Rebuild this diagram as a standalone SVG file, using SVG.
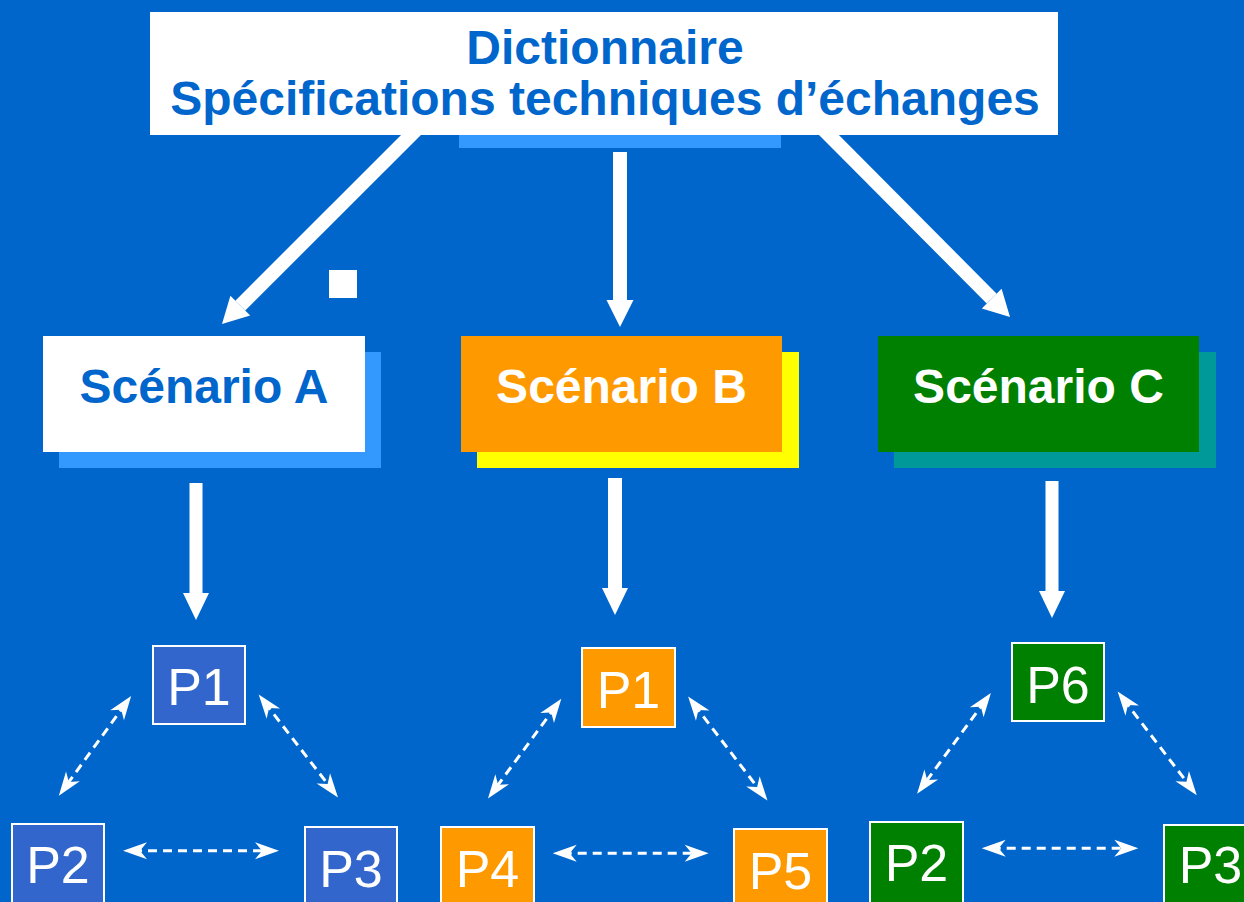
<svg xmlns="http://www.w3.org/2000/svg" width="1244" height="902" viewBox="0 0 1244 902">
<defs>
<style>
.bg{fill:#0066CC}
.title{font-family:"Liberation Sans",Arial,sans-serif;font-weight:bold;font-size:48px;fill:#0066CC;text-anchor:middle}
.scen{font-family:"Liberation Sans",Arial,sans-serif;font-weight:bold;font-size:48px;text-anchor:middle}
.p{font-family:"Liberation Sans",Arial,sans-serif;font-size:52px;fill:#FFFFFF;text-anchor:middle}
.pbox{stroke:#FFFFFF;stroke-width:2}
.pa{fill:#3366CC}
.pb{fill:#FF9900}
.pc{fill:#008000}
.shaft{stroke:#FFFFFF;stroke-width:14;fill:none}
.head{fill:#FFFFFF}
.dash{stroke:#FFFFFF;stroke-width:3;stroke-dasharray:9 6;fill:none;marker-start:url(#dh);marker-end:url(#dh)}
</style>
<marker id="dh" markerUnits="userSpaceOnUse" markerWidth="30" markerHeight="30" viewBox="-15 -15 30 30" refX="0" refY="0" orient="auto-start-reverse" overflow="visible">
<path d="M10,0 L-14,-8.5 L-7,0 L-14,8.5 Z" fill="#FFFFFF"/>
</marker>
</defs>
<rect class="bg" x="0" y="0" width="1244" height="902"/>

<g id="connectors">
<line class="shaft" x1="420" y1="126" x2="240.3" y2="305.6"/>
<polygon class="head" points="222,324 250.2,315.5 230.4,295.7"/>
<rect class="head" x="613" y="152" width="14" height="148"/>
<polygon class="head" points="606.5,300 633.5,300 620,327"/>
<line class="shaft" x1="820" y1="126" x2="991.7" y2="298.6"/>
<polygon class="head" points="1010,317 981.8,308.5 1001.6,288.7"/>

<rect class="head" x="189.5" y="483" width="13" height="110"/>
<polygon class="head" points="183,593 209,593 196,620"/>
<rect class="head" x="608" y="478" width="14" height="110"/>
<polygon class="head" points="602,588 628,588 615,615"/>
<rect class="head" x="1045.5" y="481" width="13" height="110"/>
<polygon class="head" points="1039,591 1065,591 1052,618"/>

<line class="dash" x1="125.3" y1="704" x2="64.7" y2="787.7"/>
<line class="dash" x1="264.8" y1="702.5" x2="331.9" y2="789.5"/>
<line class="dash" x1="133" y1="850.7" x2="269" y2="850.7"/>

<line class="dash" x1="555.4" y1="706.8" x2="493.9" y2="790.5"/>
<line class="dash" x1="694.2" y1="704.5" x2="761.4" y2="792.5"/>
<line class="dash" x1="562.7" y1="853.3" x2="698.7" y2="853.3"/>

<line class="dash" x1="985" y1="701" x2="923" y2="785.7"/>
<line class="dash" x1="1123.7" y1="699.5" x2="1190.7" y2="787.2"/>
<line class="dash" x1="991.7" y1="848.3" x2="1128.3" y2="848.3"/>

<rect x="329" y="270" width="28" height="28" fill="#FFFFFF"/>
</g>

<g id="dictionnaire">
<rect x="459" y="135" width="322" height="13" fill="#3399FF"/>
<rect x="150" y="12" width="908" height="123" fill="#FFFFFF"/>
<text class="title" x="605" y="64">Dictionnaire</text>
<text class="title" x="605" y="115">Spécifications techniques d’échanges</text>
</g>

<g id="scenarioA">
<rect x="59" y="352" width="322" height="116" fill="#3399FF"/>
<rect x="43" y="336" width="322" height="116" fill="#FFFFFF"/>
<text class="scen" x="204" y="403" fill="#0066CC">Scénario A</text>
</g>
<g id="scenarioB">
<rect x="477" y="352" width="322" height="116" fill="#FFFF00"/>
<rect x="461" y="336" width="321" height="116" fill="#FF9900"/>
<text class="scen" x="621.5" y="403" fill="#FFFFFF">Scénario B</text>
</g>
<g id="scenarioC">
<rect x="894" y="352" width="322" height="116" fill="#009999"/>
<rect x="878" y="336" width="321" height="116" fill="#008000"/>
<text class="scen" x="1038.5" y="403" fill="#FFFFFF">Scénario C</text>
</g>

<g id="A-P1"><rect class="pbox pa" x="153" y="646" width="92" height="78"/><text class="p" x="199" y="705">P1</text></g>
<g id="A-P2"><rect class="pbox pa" x="12" y="824" width="92" height="80"/><text class="p" x="58" y="883">P2</text></g>
<g id="A-P3"><rect class="pbox pa" x="305" y="827" width="92" height="80"/><text class="p" x="351" y="887">P3</text></g>

<g id="B-P1"><rect class="pbox pb" x="582" y="648" width="93" height="79"/><text class="p" x="628.5" y="708">P1</text></g>
<g id="B-P4"><rect class="pbox pb" x="441" y="827" width="93" height="80"/><text class="p" x="487.5" y="887">P4</text></g>
<g id="B-P5"><rect class="pbox pb" x="734" y="829" width="93" height="80"/><text class="p" x="780.5" y="889">P5</text></g>

<g id="C-P6"><rect class="pbox pc" x="1012" y="643" width="92" height="78"/><text class="p" x="1058" y="703">P6</text></g>
<g id="C-P2"><rect class="pbox pc" x="870" y="822" width="93" height="82"/><text class="p" x="916.5" y="881">P2</text></g>
<g id="C-P3"><rect class="pbox pc" x="1164" y="825" width="93" height="80"/><text class="p" x="1210.5" y="883">P3</text></g>
</svg>
